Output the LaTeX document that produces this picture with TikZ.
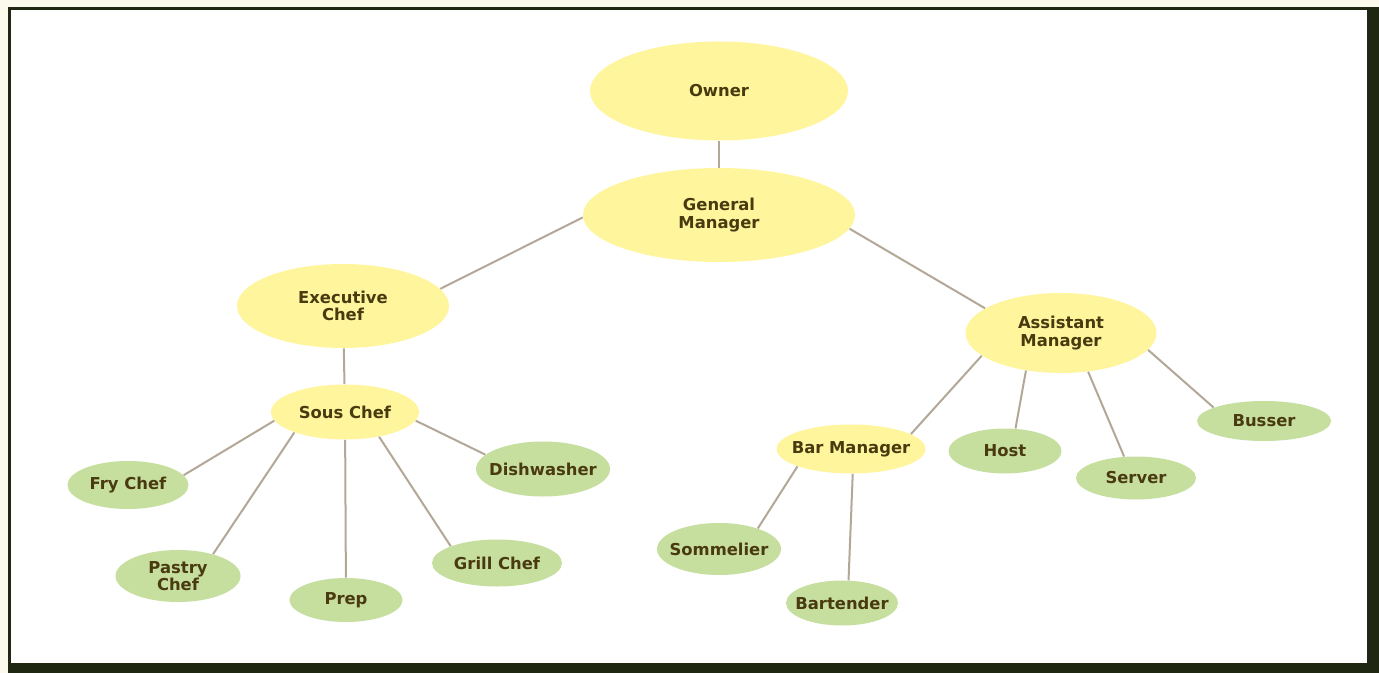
\documentclass[tikz,border=0pt]{standalone}
\usepackage{fontspec}
\setmainfont{DejaVu Sans}
\usetikzlibrary{shapes.geometric}
\definecolor{PaperCream}{HTML}{FBF8EC}
\definecolor{FrameDark}{HTML}{1F2611}
\definecolor{SoftYellow}{HTML}{FFF59D}
\definecolor{SoftGreen}{HTML}{C6DF9F}
\definecolor{TextBrown}{HTML}{4A3A10}
\definecolor{LinkGray}{HTML}{B3A898}

\begin{document}
\begin{tikzpicture}[x=0.5pt,y=-0.5pt,
    role/.style={ellipse,inner xsep=-14pt,inner ysep=-4pt,align=center,text=TextBrown,
      font=\fontsize{8.2}{8.6}\selectfont\bfseries},
    lead/.style={role,fill=SoftYellow},
    staff/.style={role,fill=SoftGreen},
    link/.style={draw=LinkGray,line width=1pt}]
      % frame
      \fill[PaperCream] (0,0) rectangle (1379,673);
      \fill[FrameDark] (8,7) rectangle (1379,673);
      \fill[white] (11,10) rectangle (1367,663);
      \useasboundingbox (0,0) rectangle (1379,673);
      % managers
      \node[lead,minimum width=258pt*0.5,minimum height=99pt*0.5] (owner) at (719,91) {Owner};
      \node[lead,minimum width=272pt*0.5,minimum height=94pt*0.5] (gm) at (719,215) {General\\Manager};
      \node[lead,minimum width=212pt*0.5,minimum height=84pt*0.5] (exec) at (343,306) {Executive\\Chef};
      \node[lead,minimum width=148pt*0.5,minimum height=55pt*0.5] (sous) at (345,412) {Sous Chef};
      \node[lead,minimum width=191pt*0.5,minimum height=80pt*0.5] (asst) at (1061,333) {Assistant\\Manager};
      \node[lead,minimum width=149pt*0.5,minimum height=49pt*0.5] (bar) at (851,449) {Bar Manager};
      % kitchen staff
      \node[staff,minimum width=121pt*0.5,minimum height=48pt*0.5] (fry) at (128,485) {Fry Chef};
      \node[staff,minimum width=134pt*0.5,minimum height=55pt*0.5] (dish) at (543,469) {Dishwasher};
      \node[staff,minimum width=125pt*0.5,minimum height=52pt*0.5] (pastry) at (178,576) {Pastry\\Chef};
      \node[staff,minimum width=113pt*0.5,minimum height=44pt*0.5] (prep) at (346,600) {Prep};
      \node[staff,minimum width=130pt*0.5,minimum height=47pt*0.5] (grill) at (497,563) {Grill Chef};
      % front of house staff
      \node[staff,minimum width=113pt*0.5,minimum height=45pt*0.5] (host) at (1005,451) {Host};
      \node[staff,minimum width=120pt*0.5,minimum height=43pt*0.5] (server) at (1136,478) {Server};
      \node[staff,minimum width=134pt*0.5,minimum height=40pt*0.5] (busser) at (1264,421) {Busser};
      \node[staff,minimum width=124pt*0.5,minimum height=52pt*0.5] (somm) at (719,549) {Sommelier};
      \node[staff,minimum width=112pt*0.5,minimum height=45pt*0.5] (bartender) at (842,603) {Bartender};
      % links
      \draw[link] (owner) -- (gm);
      \draw[link] (gm.181) -- (exec.10);
      \draw[link] (gm.-6) -- (asst.162);
      \draw[link] (exec) -- (sous);
      \draw[link] (sous.187) -- (fry.10);
      \draw[link] (sous.202) -- (pastry.32);
      \draw[link] (sous) -- (prep);
      \draw[link] (sous.-36) -- (grill.160);
      \draw[link] (sous.-7) -- (dish.166);
      \draw[link] (asst.196) -- (bar.14);
      \draw[link] (asst.227) -- (host.65);
      \draw[link] (asst.-55) -- (server.119);
      \draw[link] (asst.-11) -- (busser.165);
      \draw[link] (bar.198) -- (somm.28);
      \draw[link] (bar.-86) -- (bartender.74);
    \end{tikzpicture}
\end{document}
